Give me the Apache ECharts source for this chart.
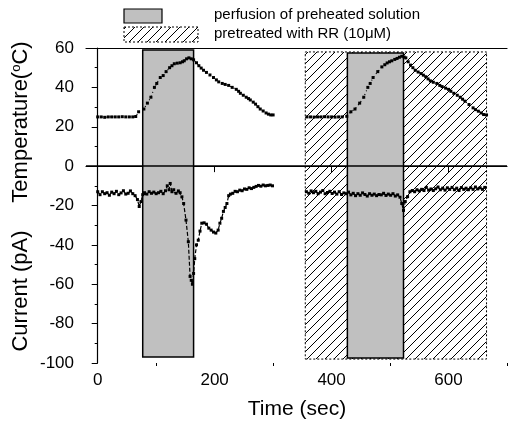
<!DOCTYPE html>
<html>
<head>
<meta charset="utf-8">
<script src="https://cdn.jsdelivr.net/npm/echarts@6/dist/echarts.min.js"></script>
<style>
  html, body { margin: 0; padding: 0; background: #fff; }
  #chart { width: 508px; height: 430px; }
</style>
</head>
<body>
<div id="chart"></div>
<script>
  // temperature traces (time sec, degC)
  const tempA = [[0,25],[6,25],[12,24.8],[18,25],[24,25],[30,25],[36,25],[42,25.1],[48,25],[54,25],[60,25],[65,25.2],
    [70,27.6],[79,29],[85,32],[91,35],[97,40],[101,42],[107,45],[112,46],[117,48],[123,50],[127,51],[131,52],[136,52.3],
    [141,52.5],[145,53],[148,53.5],[152,54.5],[156,55],[160,54.5],[164,54],[169,52.5],[173,51],[177,49.8],[181,48.7],
    [186,47.6],[192,46.3],[198,45],[203,43.8],[207,42.8],[213,42],[218,41.5],[224,41],[230,40],[237,39],[241,38],[244,37],
    [249,36],[254,35],[258,34.3],[261,33.6],[266,32.5],[270,31.5],[274,30.2],[278,29],[283,28],[288,27],[292,26.4],[296,26],[300,26]]
  const tempB = [[358,25],[364,25],[370,24.9],[376,25],[382,25],[388,25.1],[394,25],[400,25],[406,24.9],[412,25],[418,25],
    [426,25.3],[433,27.6],[440,29],[448,32],[455,35],[462,40],[466,42],[471,45],[479,48],[486,50.4],[491,51.5],[495,52.4],
    [499,53],[503,53.5],[508,54.2],[512,54.7],[516,55.3],[520,55.8],[524,55.4],[527,55],[531,53],[535,51.3],[539,50],
    [543,48.7],[548,47.8],[553,47],[557,46.2],[561,45.4],[565,44.3],[569,43.3],[574,42.6],[580,42],[585,41],[589,40.4],
    [595,39.6],[600,39],[604,38],[609,37],[615,36],[620,35],[624,34],[628,33],[635,31.3],[642,29.6],[646,28.7],[651,27.9],
    [656,27],[660,26.2],[665,26]]
  // current traces (time sec, pA)
  const currentA = [[0,-13],[4,-14.5],[8,-13],[12,-14],[16,-13.5],[20,-14.8],[24,-13.2],[28,-14],[32,-12.8],[36,-14.5],
    [40,-13.6],[44,-12.5],[48,-14.2],[52,-13.8],[56,-12.6],[60,-14],[64,-15],[68,-17],[71,-20.5],[74,-18],[77,-14.5],
    [80,-13.5],[84,-14.2],[88,-13],[92,-13.8],[96,-13.2],[100,-14],[104,-13.5],[108,-12.8],[112,-14],[116,-12.5],[119,-10],
    [122,-12],[124,-8.8],[127,-13],[130,-12],[134,-13.8],[138,-12.6],[141,-13.5],[144,-15.6],[147,-19],[151,-27.4],
    [155,-38.4],[158,-56],[160,-58],[162,-60],[164,-54.5],[166,-47],[169,-40],[172,-37.6],[175,-33],[178,-29],[182,-28.8],
    [186,-29.5],[190,-31.5],[194,-32.5],[198,-33.5],[202,-34],[206,-32.5],[209,-29],[212,-26.5],[215,-23],[218,-21],
    [221,-19],[224,-15],[227,-14.2],[231,-13.8],[235,-12.8],[239,-13],[243,-12.2],[247,-12.5],[251,-11.6],[255,-11.8],
    [259,-11],[263,-11.4],[267,-10.8],[271,-10.3],[275,-9.8],[279,-10.2],[283,-9.6],[287,-10],[291,-9.8],[295,-9.6],[299,-10]]
  const currentB = [[357,-13],[361,-13.8],[365,-12.6],[369,-13.5],[373,-12.8],[377,-14],[381,-13.2],[385,-12.4],[389,-14],
    [393,-13.4],[397,-12.8],[401,-13.9],[405,-13.2],[409,-14.2],[413,-13],[417,-14.4],[421,-13.6],[425,-14],[429,-13.2],
    [433,-14.6],[437,-13.8],[441,-15],[445,-14],[449,-14.8],[453,-13.6],[457,-14.4],[461,-15.2],[465,-14],[469,-14.8],
    [473,-14.2],[477,-15],[481,-14.4],[485,-14.6],[489,-13.8],[493,-14.9],[497,-14.2],[501,-14.8],[505,-14],[509,-15.2],
    [513,-14.6],[517,-15.8],[520,-19],[523,-22.5],[526,-18],[530,-15.5],[534,-13],[538,-12.4],[542,-13],[546,-12],
    [550,-12.6],[554,-11.8],[558,-12.4],[562,-10.8],[566,-12.2],[570,-11.6],[574,-12.4],[578,-11.5],[582,-10.6],[586,-12],
    [590,-11.2],[594,-12.2],[598,-11],[602,-11.8],[606,-10.8],[610,-12],[614,-11.2],[618,-12.4],[622,-10.9],[626,-11.8],
    [630,-11.2],[634,-12],[638,-11],[642,-11.8],[646,-10.6],[650,-11.6],[654,-11],[658,-11.8],[662,-10.8]]

  // shaded periods [x0, y0, x1, y1]
  const perfusionBoxes = [[77, -97, 164, 59], [427, -97.5, 523, 57.5]]
  const rrBox = [355, -98, 665, 58]

  const xMajor = [0, 200, 400, 600]
  const xMinor = [100, 300, 500, 700]

  const FONT = 'Liberation Sans, Arial, sans-serif'

  // diagonal hatch tile
  function hatch(size) {
    const c = document.createElement('canvas')
    c.width = size
    c.height = size
    const g = c.getContext('2d')
    g.strokeStyle = '#000'
    g.lineWidth = 1
    g.beginPath()
    g.moveTo(0, size); g.lineTo(size, 0)
    g.moveTo(-2, 2); g.lineTo(2, -2)
    g.moveTo(size - 2, size + 2); g.lineTo(size + 2, size - 2)
    g.stroke()
    return { image: c, repeat: 'repeat' }
  }
  const hatchFill = hatch(9)

  const box = b => [{ coord: [b[0], b[1]] }, { coord: [b[2], b[3]] }]

  const chart = echarts.init(document.getElementById('chart'))
  chart.setOption({
    animation: false,
    backgroundColor: '#fff',
    grid: { left: 86, right: 1, top: 48, bottom: 67 },
    xAxis: [
      {
        type: 'value', min: -20, max: 700, position: 'bottom',
        axisLine: { lineStyle: { color: '#000', width: 1.2 } },
        axisTick: { customValues: xMajor, length: 6, inside: false, lineStyle: { color: '#000' } },
        axisLabel: { customValues: xMajor, color: '#000', fontSize: 17, fontFamily: FONT, margin: 9 },
        splitLine: { show: false }
      },
      {
        type: 'value', min: -20, max: 700, position: 'bottom',
        axisLine: { show: false },
        axisTick: { customValues: xMinor, length: 3, lineStyle: { color: '#000' } },
        axisLabel: { show: false },
        splitLine: { show: false }
      },
      {
        type: 'value', min: -20, max: 700, position: 'top',
        axisLine: { lineStyle: { color: '#000', width: 1.2 } },
        axisTick: { show: false },
        axisLabel: { show: false },
        splitLine: { show: false }
      }
    ],
    yAxis: {
      type: 'value', min: -100, max: 60, interval: 20,
      axisLine: { show: true, lineStyle: { color: '#000', width: 1.2 } },
      axisTick: { length: 6, lineStyle: { color: '#000' } },
      minorTick: { show: true, splitNumber: 2, length: 3, lineStyle: { color: '#000' } },
      axisLabel: { color: '#000', fontSize: 17, fontFamily: FONT, margin: 12 },
      splitLine: { show: false }
    },
    graphic: [
      { type: 'rect', shape: { x: 124, y: 9, width: 38, height: 14 },
        style: { fill: '#c0c0c0', stroke: '#000', lineWidth: 1.2 } },
      { type: 'rect', shape: { x: 124, y: 27, width: 74, height: 15 },
        style: { fill: hatchFill, stroke: '#000', lineWidth: 1, lineDash: [2, 2] } },
      { type: 'text', x: 214, y: 15,
        style: { text: 'perfusion of preheated solution', fontSize: 15, fontFamily: FONT, fill: '#000', verticalAlign: 'middle' } },
      { type: 'text', x: 214, y: 34,
        style: { text: 'pretreated with RR (10\u03bcM)', fontSize: 15, fontFamily: FONT, fill: '#000', verticalAlign: 'middle' } },
      { type: 'text', x: 21, y: 122, rotation: Math.PI / 2,
        style: {
          text: '{a|Temperature(}{s|o}{a|C)}', align: 'center', verticalAlign: 'middle', fill: '#000',
          rich: {
            a: { fontSize: 22, fontFamily: FONT, fill: '#000' },
            s: { fontSize: 13, fontFamily: FONT, fill: '#000', verticalAlign: 'top', padding: [0, 0, 10, 0] }
          }
        } },
      { type: 'text', x: 21, y: 291, rotation: Math.PI / 2,
        style: { text: 'Current (pA)', fontSize: 22, fontFamily: FONT, fill: '#000', align: 'center', verticalAlign: 'middle' } },
      { type: 'text', x: 297, y: 409,
        style: { text: 'Time (sec)', fontSize: 21, fontFamily: FONT, fill: '#000', align: 'center', verticalAlign: 'middle' } }
    ],
    series: [
      {
        type: 'line', data: [], z: 1, silent: true,
        markArea: {
          silent: true,
          itemStyle: { color: hatchFill, borderColor: '#000', borderWidth: 1, borderType: [2, 2] },
          data: [box(rrBox)]
        }
      },
      {
        type: 'line', data: [], z: 2, silent: true,
        markArea: {
          silent: true,
          itemStyle: { color: '#c0c0c0', borderColor: '#000', borderWidth: 1.5 },
          data: perfusionBoxes.map(box)
        },
        markLine: {
          silent: true, symbol: 'none', label: { show: false },
          lineStyle: { color: '#000', width: 1.5, type: 'solid' },
          data: [{ yAxis: 0 }]
        }
      },
      ...[tempA, tempB].map(d => ({
        type: 'line', data: d, z: 5, symbol: 'rect', symbolSize: 3,
        itemStyle: { color: '#000' },
        lineStyle: { color: '#000', width: 1.2, type: [1, 3] }
      })),
      ...[currentA, currentB].map(d => ({
        type: 'line', data: d, z: 5, symbol: 'rect', symbolSize: 3,
        itemStyle: { color: '#000' },
        lineStyle: { color: '#000', width: 1.2, type: [4, 2] }
      }))
    ]
  })
</script>
</body>
</html>
